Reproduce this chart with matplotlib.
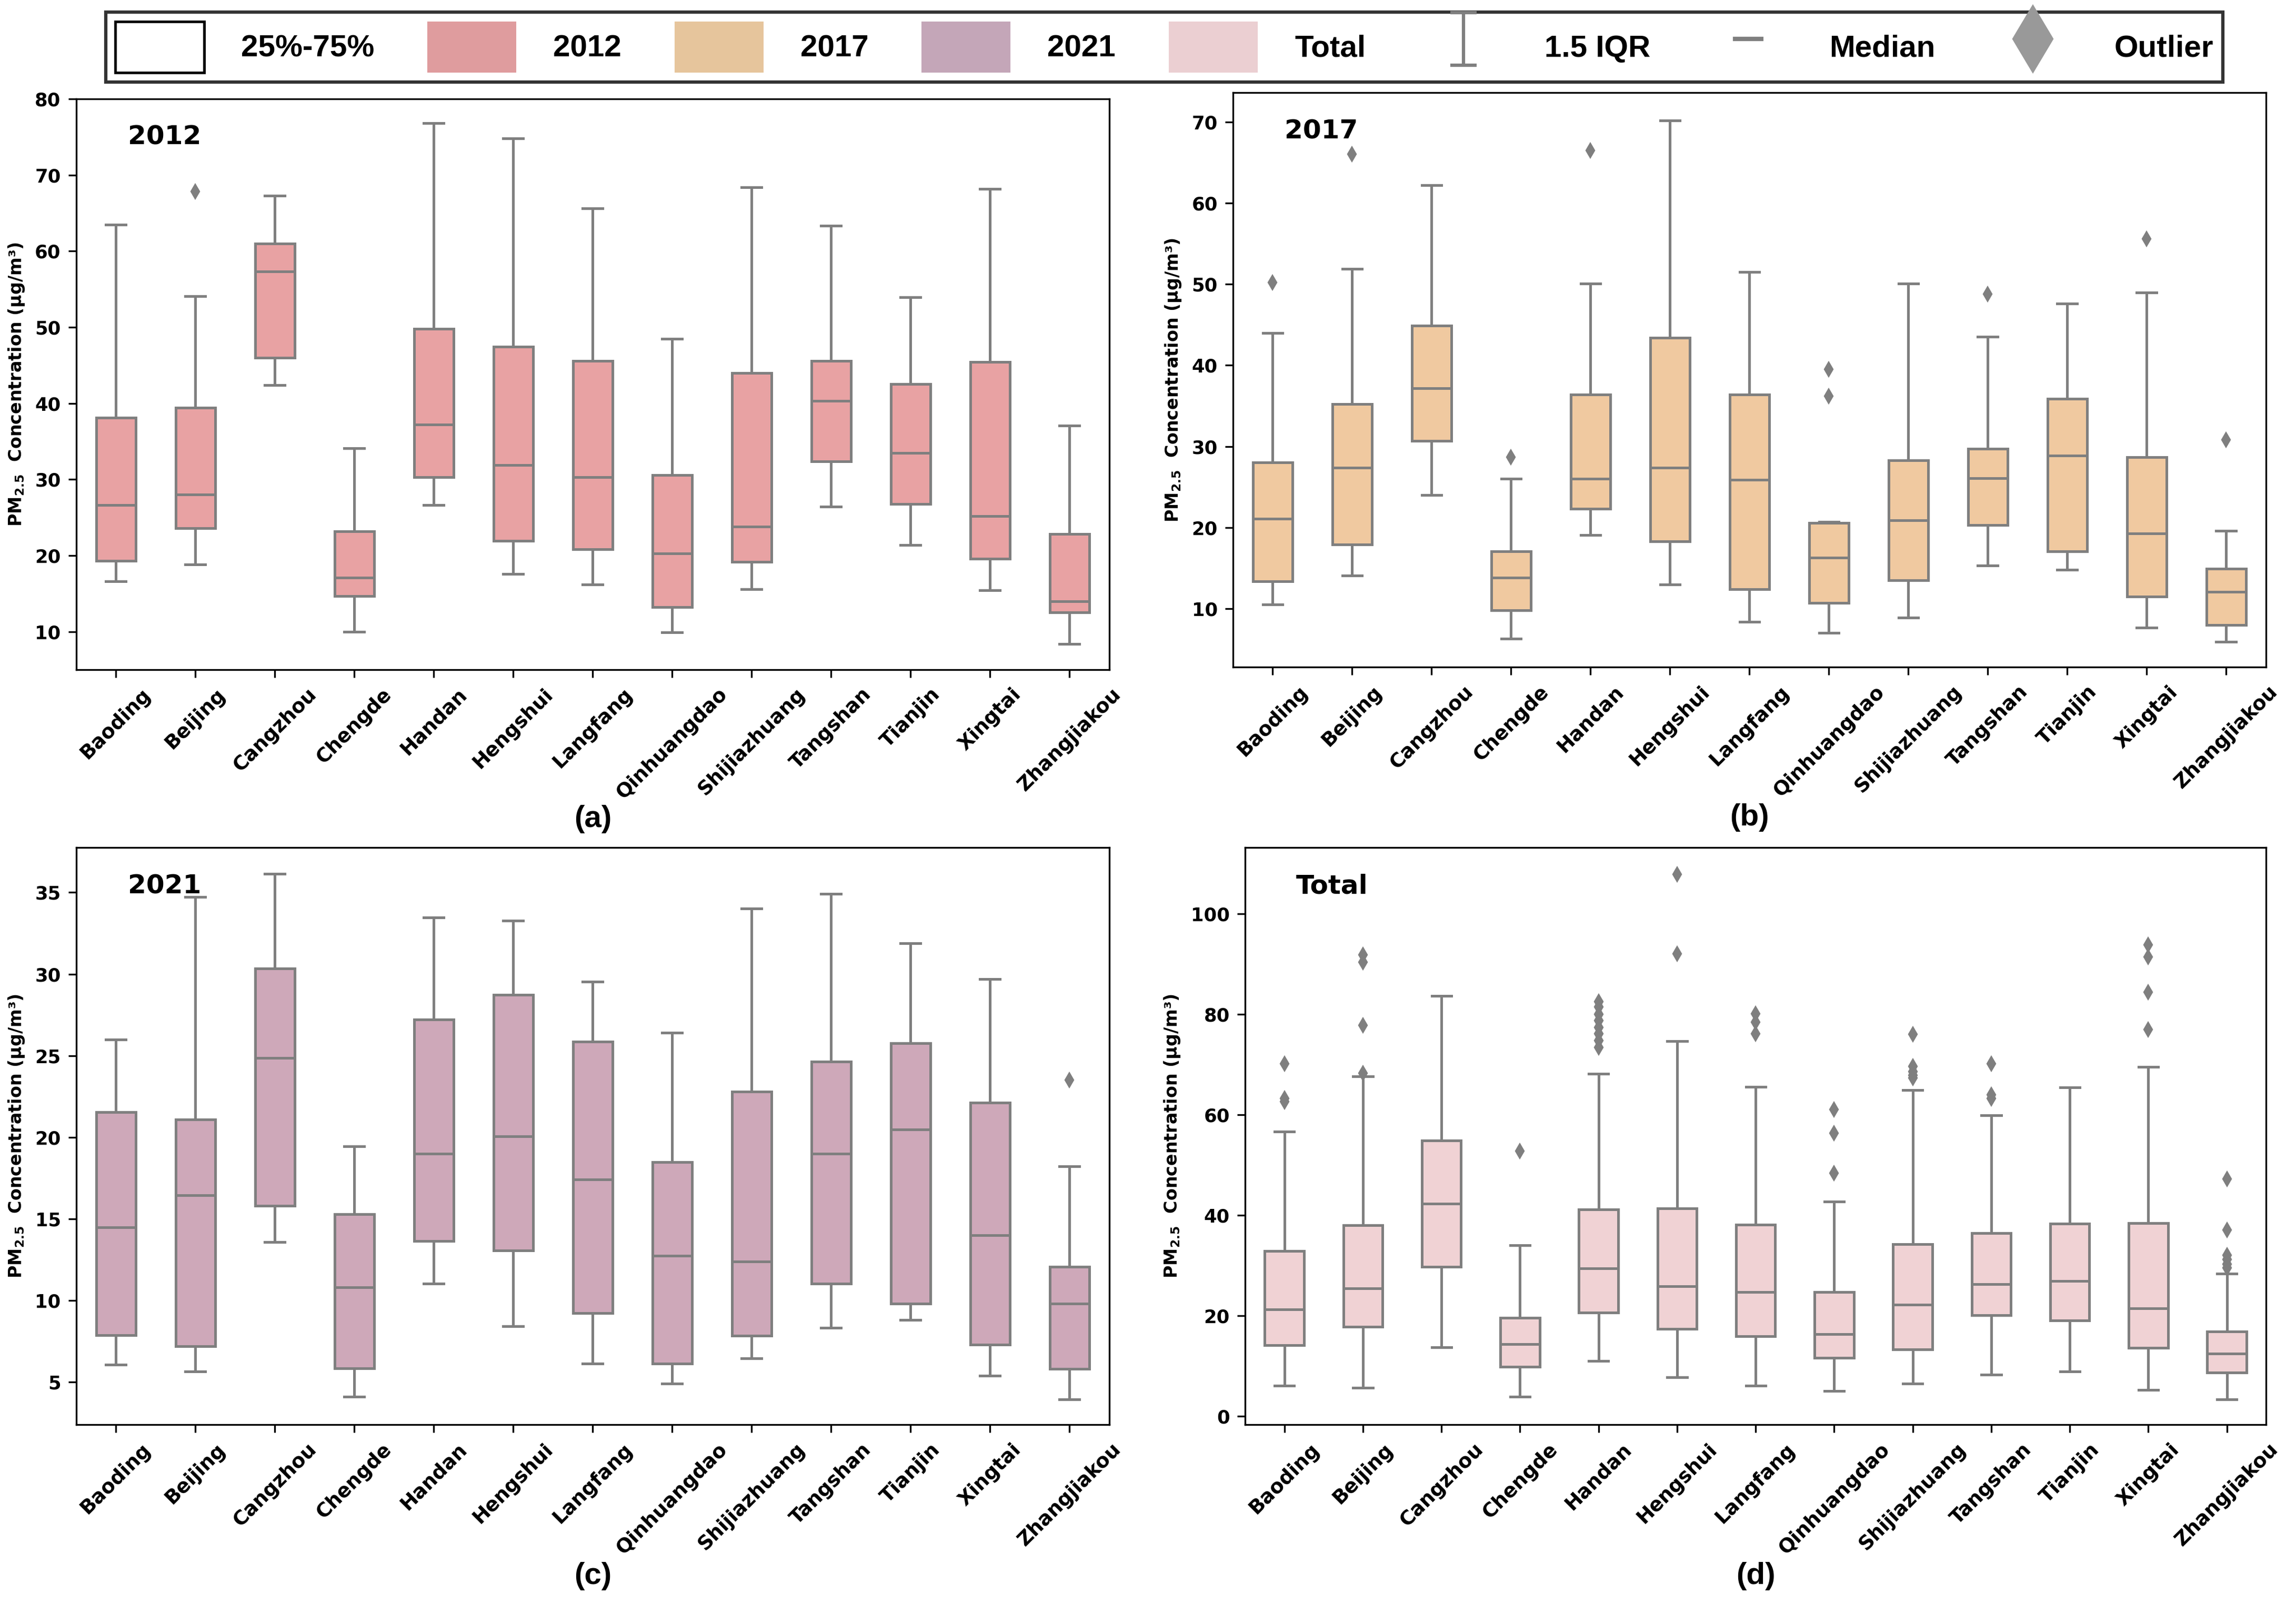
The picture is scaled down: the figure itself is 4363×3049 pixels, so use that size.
import matplotlib
matplotlib.use("Agg")
import matplotlib.pyplot as plt
from matplotlib.patches import Patch
from matplotlib.lines import Line2D
from matplotlib.path import Path

cities = ['Baoding', 'Beijing', 'Cangzhou', 'Chengde', 'Handan', 'Hengshui', 'Langfang',
          'Qinhuangdao', 'Shijiazhuang', 'Tangshan', 'Tianjin', 'Xingtai', 'Zhangjiakou']

# 2012
whislo_2012 = [16.6, 18.8, 42.4, 10.0, 26.6, 17.6, 16.2, 9.9, 15.6, 26.4, 21.4, 15.4, 8.4]
q1_2012 = [19.3, 23.6, 46.0, 14.7, 30.3, 21.9, 20.8, 13.2, 19.2, 32.4, 26.8, 19.6, 12.5]
med_2012 = [26.6, 28.0, 57.3, 17.1, 37.2, 31.9, 30.3, 20.3, 23.8, 40.3, 33.5, 25.2, 14.0]
q3_2012 = [38.1, 39.4, 61.0, 23.2, 49.8, 47.4, 45.6, 30.6, 44.0, 45.6, 42.5, 45.4, 22.8]
whishi_2012 = [63.5, 54.1, 67.3, 34.1, 76.8, 74.8, 65.6, 48.5, 68.4, 63.3, 53.9, 68.2, 37.1]
fliers_2012 = [[], [67.8], [], [], [], [], [], [], [], [], [], [], []]

# 2017
whislo_2017 = [10.5, 14.1, 24.0, 6.3, 19.1, 13.0, 8.4, 7.0, 8.9, 15.3, 14.8, 7.7, 5.9]
q1_2017 = [13.4, 17.9, 30.7, 9.8, 22.3, 18.3, 12.4, 10.7, 13.5, 20.3, 17.1, 11.5, 8.0]
med_2017 = [21.1, 27.4, 37.2, 13.8, 26.0, 27.4, 25.9, 16.3, 20.9, 26.1, 28.9, 19.3, 12.1]
q3_2017 = [28.0, 35.2, 44.9, 17.1, 36.4, 43.4, 36.4, 20.6, 28.3, 29.7, 35.9, 28.7, 14.9]
whishi_2017 = [44.0, 51.9, 62.2, 26.0, 50.1, 70.2, 51.5, 20.7, 50.1, 43.5, 47.6, 49.0, 19.6]
fliers_2017 = [[50.2], [66.0], [], [28.7], [66.5], [], [], [39.5, 36.2], [], [48.8], [], [55.6], [30.8]]

# 2021
whislo_2021 = [6.07, 5.67, 13.6, 4.1, 11.05, 8.44, 6.14, 4.93, 6.45, 8.32, 8.82, 5.41, 3.96]
q1_2021 = [7.87, 7.2, 15.8, 5.86, 13.66, 13.06, 9.22, 6.14, 7.85, 11.05, 9.82, 7.3, 5.83]
med_2021 = [14.5, 16.45, 24.87, 10.8, 19.0, 20.06, 17.43, 12.76, 12.4, 19.0, 20.49, 14.01, 9.82]
q3_2021 = [21.55, 21.1, 30.33, 15.3, 27.2, 28.72, 25.87, 18.47, 22.81, 24.64, 25.75, 22.12, 12.07]
whishi_2021 = [26.0, 34.74, 36.14, 19.44, 33.46, 33.27, 29.55, 26.4, 34.03, 34.93, 31.9, 29.69, 18.23]
fliers_2021 = [[], [], [], [], [], [], [], [], [], [], [], [], [23.5]]

# Total
whislo_tot = [6.1, 5.6, 13.7, 3.9, 11.0, 7.7, 6.1, 5.0, 6.5, 8.3, 8.9, 5.2, 3.3]
q1_tot = [14.1, 17.8, 29.7, 9.8, 20.6, 17.4, 15.9, 11.6, 13.3, 20.1, 19.0, 13.6, 8.7]
med_tot = [21.3, 25.4, 42.3, 14.3, 29.4, 25.9, 24.7, 16.3, 22.2, 26.3, 26.9, 21.5, 12.4]
q3_tot = [32.9, 38.0, 54.9, 19.6, 41.1, 41.4, 38.1, 24.7, 34.2, 36.4, 38.3, 38.4, 16.9]
whishi_tot = [56.6, 67.6, 83.7, 34.0, 68.2, 74.7, 65.6, 42.7, 64.9, 59.9, 65.4, 69.5, 28.4]
fliers_tot = [[70.2, 63.3, 62.6], [91.8, 90.4, 77.8, 68.3], [], [52.8],
              [82.5, 81.5, 80.0, 78.8, 77.4, 76.1, 74.8, 73.4], [107.9, 92.1],
              [80.1, 78.4, 76.1], [61.1, 56.3, 48.4], [76.0, 69.6, 68.6, 67.9, 67.3],
              [70.2, 64.0, 63.2], [], [93.8, 91.4, 84.4, 77.0],
              [47.2, 37.1, 32.0, 31.2, 30.3, 29.5]]

gray = '#7f7f7f'
ylab = r'PM$_{\mathbf{2.5}}$  Concentration (μg/m³)'


def make_stats(lo, q1, med, q3, hi, fl):
    out = []
    for i in range(len(lo)):
        out.append({'whislo': lo[i], 'q1': q1[i], 'med': med[i], 'q3': q3[i],
                    'whishi': hi[i], 'fliers': fl[i]})
    return out


def draw_panel(ax, stats, color, title, ylim, yticks, letter):
    ax.bxp(stats, positions=range(len(stats)), widths=0.5, patch_artist=True,
           boxprops=dict(facecolor=color, edgecolor=gray, linewidth=1.2),
           whiskerprops=dict(color=gray, linewidth=1.2),
           capprops=dict(color=gray, linewidth=1.2),
           medianprops=dict(color=gray, linewidth=1.2),
           flierprops=dict(marker='d', markerfacecolor=gray, markeredgecolor=gray,
                           markersize=4))
    ax.set_xlim(-0.5, len(stats) - 0.5)
    ax.set_ylim(*ylim)
    ax.set_yticks(yticks)
    ax.set_xticks(range(len(cities)))
    ax.set_xticklabels(cities, rotation=45, fontsize=9, fontweight='bold')
    for t in ax.get_yticklabels():
        t.set_fontweight('bold')
        t.set_fontsize(8.5)
    ax.set_ylabel(ylab, fontsize=8, fontweight='bold')
    ax.text(0.05, 0.933, title, transform=ax.transAxes, va='center', ha='left',
            fontsize=12, fontweight='bold')
    ax.text(0.5, -0.262, letter, transform=ax.transAxes, ha='center', va='center',
            fontsize=14, fontweight='bold', family='Liberation Sans')


fig = plt.figure(figsize=(4363 / 300, 3049 / 300), dpi=300)

ax_a = fig.add_axes([0.0332, 0.5825, 0.4499, 0.3559])
ax_b = fig.add_axes([0.5370, 0.5841, 0.4499, 0.3581])
ax_c = fig.add_axes([0.0332, 0.1118, 0.4499, 0.3598])
ax_d = fig.add_axes([0.5423, 0.1118, 0.4447, 0.3598])

draw_panel(ax_a, make_stats(whislo_2012, q1_2012, med_2012, q3_2012, whishi_2012, fliers_2012),
           '#E8A2A3', '2012', (5, 80), range(10, 81, 10), '(a)')
draw_panel(ax_b, make_stats(whislo_2017, q1_2017, med_2017, q3_2017, whishi_2017, fliers_2017),
           '#F0C9A0', '2017', (2.8, 73.6), range(10, 71, 10), '(b)')
draw_panel(ax_c, make_stats(whislo_2021, q1_2021, med_2021, q3_2021, whishi_2021, fliers_2021),
           '#CEA8B9', '2021', (2.4, 37.75), range(5, 36, 5), '(c)')
draw_panel(ax_d, make_stats(whislo_tot, q1_tot, med_tot, q3_tot, whishi_tot, fliers_tot),
           '#F0D2D4', 'Total', (-1.7, 113.2), range(0, 101, 20), '(d)')

# legend
ibeam = Path([(-0.5, 1), (0.5, 1), (0, 1), (0, -1), (-0.5, -1), (0.5, -1)],
             [Path.MOVETO, Path.LINETO, Path.MOVETO, Path.LINETO, Path.MOVETO, Path.LINETO])
handles = [
    Patch(facecolor='white', edgecolor='black', linewidth=1.2),
    Patch(facecolor='#DF9C9E', edgecolor='none'),
    Patch(facecolor='#E6C59C', edgecolor='none'),
    Patch(facecolor='#C4A6B8', edgecolor='none'),
    Patch(facecolor='#EBCFD2', edgecolor='none'),
    Line2D([], [], linestyle='none', marker=ibeam, markersize=24, markeredgecolor=gray,
           markeredgewidth=1.5),
    Line2D([], [], linestyle='none', marker='_', markersize=14, markeredgecolor=gray,
           markeredgewidth=2),
    Line2D([], [], linestyle='none', marker='d', markersize=21, markerfacecolor='#999999',
           markeredgecolor='#999999'),
]
labels = ['25%-75%', '2012', '2017', '2021', 'Total', '1.5 IQR', 'Median', 'Outlier']
leg = fig.legend(handles, labels, loc='center', ncol=8, mode='expand',
                 bbox_to_anchor=(201 / 4363, 1 - 154 / 3049, (4224 - 201) / 4363, 129 / 3049),
                 prop={'weight': 'bold', 'size': 14, 'family': 'Liberation Sans'},
                 handlelength=2.9, handleheight=2.2,
                 frameon=True, fancybox=False, borderaxespad=0, handletextpad=1.2,
                 borderpad=0.3)
leg.get_frame().set_edgecolor('black')
leg.get_frame().set_linewidth(1.5)

fig.savefig('out.png', dpi=300)
